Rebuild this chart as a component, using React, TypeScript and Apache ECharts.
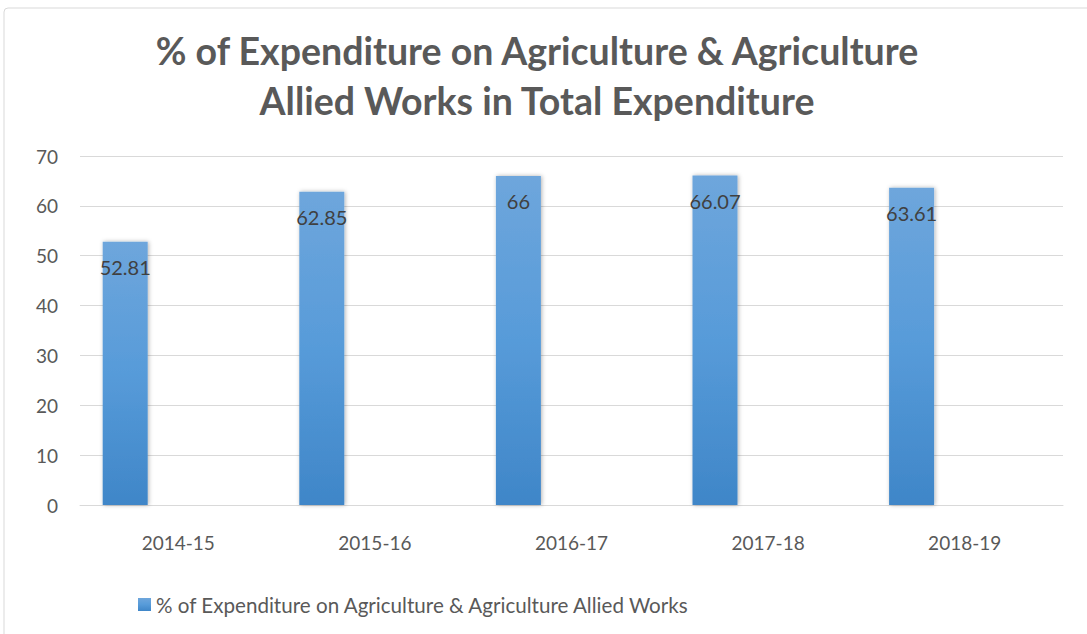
import React, { useEffect, useRef } from "react";
import * as echarts from "echarts";

const categories = ["2014-15", "2015-16", "2016-17", "2017-18", "2018-19"];
const values = [52.81, 62.85, 66, 66.07, 63.61];
const seriesName = "% of Expenditure on Agriculture & Agriculture Allied Works";
const titleLines = ["% of Expenditure on Agriculture & Agriculture", "Allied Works in Total Expenditure"];
const yTicks = { min: 0, max: 70, interval: 10 };

const FONT = "Lato, 'Liberation Sans', sans-serif";

export default function App() {
  const ref = useRef<HTMLDivElement>(null);
  useEffect(() => {
    if (!ref.current) return;
    const chart = echarts.init(ref.current, undefined, { renderer: "svg" });
    chart.setOption({
      animation: false,
      backgroundColor: "#ffffff",
      textStyle: { fontFamily: FONT },
      graphic: [
        {
          type: "rect",
          shape: { x: 4, y: 8, width: 1100, height: 640, r: 4 },
          style: { fill: "none", stroke: "#d9d9d9", lineWidth: 1 },
          silent: true,
        },
        {
          type: "text",
          x: 537,
          y: 50,
          style: {
            text: titleLines[0],
            textAlign: "center",
            textVerticalAlign: "middle",
            fontSize: 37.5,
            fontWeight: "bold",
            fontFamily: FONT,
            fill: "#595959",
          },
        },
        {
          type: "text",
          x: 537,
          y: 100,
          style: {
            text: titleLines[1],
            textAlign: "center",
            textVerticalAlign: "middle",
            fontSize: 37.5,
            fontWeight: "bold",
            fontFamily: FONT,
            fill: "#595959",
          },
        },
      ],
      legend: {
        data: [seriesName],
        left: 133,
        top: 589,
        icon: "rect",
        itemWidth: 13,
        itemHeight: 13,
        itemGap: 5,
        textStyle: { fontSize: 20.6, color: "#595959", fontFamily: FONT },
      },
      grid: { left: 80, right: 24, top: 156, bottom: 129 },
      xAxis: {
        type: "category",
        data: categories,
        axisLine: { show: true, lineStyle: { color: "#d9d9d9", width: 1 } },
        axisTick: { show: false },
        axisLabel: { fontSize: 19, color: "#595959", margin: 28, fontFamily: FONT },
      },
      yAxis: {
        type: "value",
        min: yTicks.min,
        max: yTicks.max,
        interval: yTicks.interval,
        axisLine: { show: false },
        axisTick: { show: false },
        splitLine: { lineStyle: { color: "#d9d9d9", width: 1 } },
        axisLabel: { fontSize: 19, color: "#595959", margin: 22, fontFamily: FONT },
      },
      series: [
        {
          name: seriesName,
          type: "bar",
          data: values,
          barWidth: 45,
          barGap: "136%",
          itemStyle: {
            color: new echarts.graphic.LinearGradient(0, 0, 0, 1, [
              { offset: 0, color: "#6ea6dc" },
              { offset: 0.5, color: "#579bd9" },
              { offset: 1, color: "#3f86c8" },
            ]),
            shadowBlur: 4,
            shadowColor: "rgba(0,0,0,0.3)",
            shadowOffsetX: 1,
            shadowOffsetY: 0,
          },
          label: {
            show: true,
            position: "insideTop",
            distance: 15,
            fontSize: 20,
            color: "#404040",
            fontFamily: FONT,
          },
        },
        {
          name: "",
          type: "bar",
          data: values.map(() => null),
          barWidth: 45,
          barGap: "136%",
        },
      ],
    });
    return () => chart.dispose();
  }, []);
  return <div ref={ref} style={{ position: "fixed", left: 0, top: 0, width: 1087, height: 634 }} />;
}
